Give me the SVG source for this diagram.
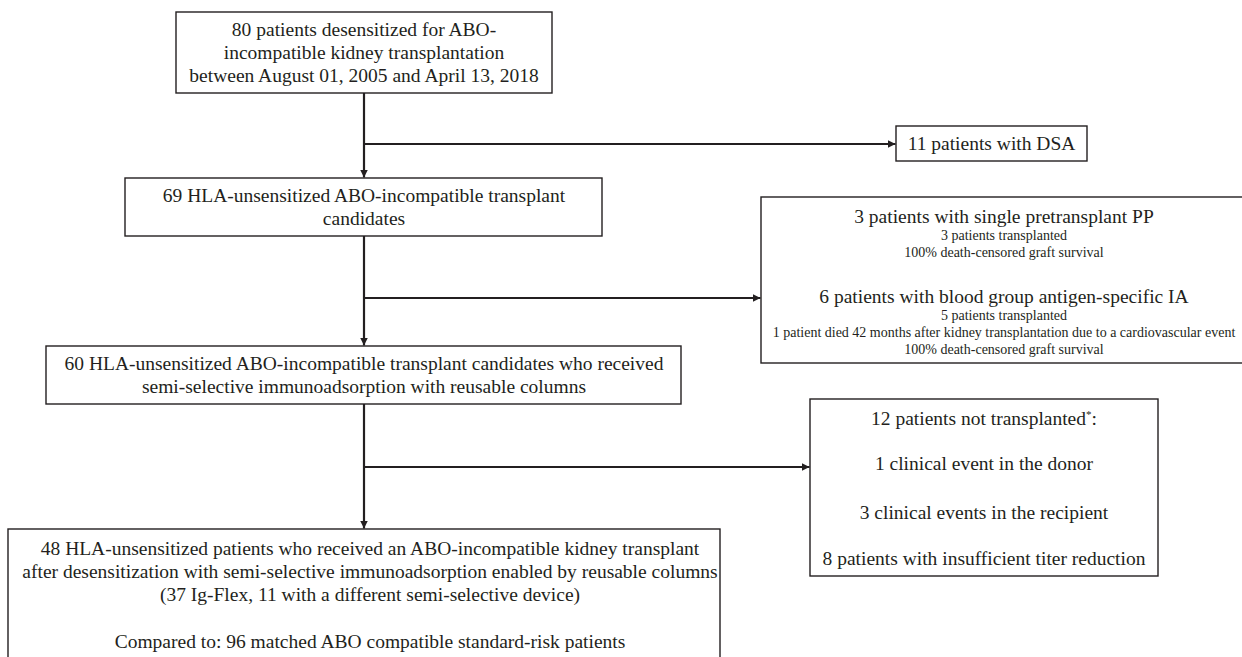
<svg xmlns="http://www.w3.org/2000/svg" width="1242" height="657" viewBox="0 0 1242 657">
<defs>
<style>
.box{fill:#fff;stroke:#231f20;stroke-width:1.4}
text{font-family:'Liberation Serif','Times New Roman',Tinos,'DejaVu Serif',serif;font-size:19.5px;fill:#231f20;text-anchor:middle}
.s{font-size:14px}
.c{stroke:#231f20;stroke-width:2.2;fill:none}
</style>
<marker id="ah" viewBox="0 0 10 10" refX="10" refY="5" markerWidth="3.6" markerHeight="3.4" markerUnits="strokeWidth" orient="auto">
<path d="M0,0 L10,5 L0,10 z" fill="#231f20"/>
</marker>
</defs>
<rect width="1242" height="657" fill="#fff"/>
<g id="connectors">
<line class="c" x1="364" y1="93" x2="364" y2="177.5" marker-end="url(#ah)"/>
<line class="c" x1="363" y1="144" x2="895.5" y2="144" marker-end="url(#ah)"/>
<line class="c" x1="364" y1="236" x2="364" y2="345.5" marker-end="url(#ah)"/>
<line class="c" x1="363" y1="298" x2="760.5" y2="298" marker-end="url(#ah)"/>
<line class="c" x1="364" y1="404" x2="364" y2="528.5" marker-end="url(#ah)"/>
<line class="c" x1="363" y1="467" x2="809.5" y2="467" marker-end="url(#ah)"/>
</g>
<g id="n1">
<rect class="box" x="176" y="12" width="376" height="81"/>
<text x="364" y="36">80 patients desensitized for ABO-</text>
<text x="364" y="59">incompatible kidney transplantation</text>
<text x="364" y="82">between August 01, 2005 and April 13, 2018</text>
</g>
<g id="n_dsa">
<rect class="box" x="896" y="126" width="191" height="35"/>
<text x="991.5" y="150">11 patients with DSA</text>
</g>
<g id="n2">
<rect class="box" x="125" y="178" width="477" height="58"/>
<text x="364" y="202">69 HLA-unsensitized ABO-incompatible transplant</text>
<text x="364" y="225">candidates</text>
</g>
<g id="n_pp">
<rect class="box" x="761" y="197" width="490" height="166"/>
<text x="1004" y="223">3 patients with single pretransplant PP</text>
<text class="s" x="1004" y="240">3 patients transplanted</text>
<text class="s" x="1004" y="257">100% death-censored graft survival</text>
<text x="1004" y="303">6 patients with blood group antigen-specific IA</text>
<text class="s" x="1004" y="320">5 patients transplanted</text>
<text class="s" x="1004" y="337">1 patient died 42 months after kidney transplantation due to a cardiovascular event</text>
<text class="s" x="1004" y="354">100% death-censored graft survival</text>
</g>
<g id="n3">
<rect class="box" x="46" y="346" width="635" height="58"/>
<text x="364" y="370">60 HLA-unsensitized ABO-incompatible transplant candidates who received</text>
<text x="364" y="393">semi-selective immunoadsorption with reusable columns</text>
</g>
<g id="n_nt">
<rect class="box" x="810" y="399" width="348" height="177"/>
<text x="984" y="425">12 patients not transplanted<tspan font-size="11px" dy="-7">*</tspan><tspan dy="7">:</tspan></text>
<text x="984" y="470">1 clinical event in the donor</text>
<text x="984" y="519">3 clinical events in the recipient</text>
<text x="984" y="565">8 patients with insufficient titer reduction</text>
</g>
<g id="n4">
<rect class="box" x="8" y="529" width="712" height="140"/>
<text x="370" y="555">48 HLA-unsensitized patients who received an ABO-incompatible kidney transplant</text>
<text x="370" y="578">after desensitization with semi-selective immunoadsorption enabled by reusable columns</text>
<text x="370" y="601">(37 Ig-Flex, 11 with a different semi-selective device)</text>
<text x="370" y="648">Compared to: 96 matched ABO compatible standard-risk patients</text>
</g>
</svg>
